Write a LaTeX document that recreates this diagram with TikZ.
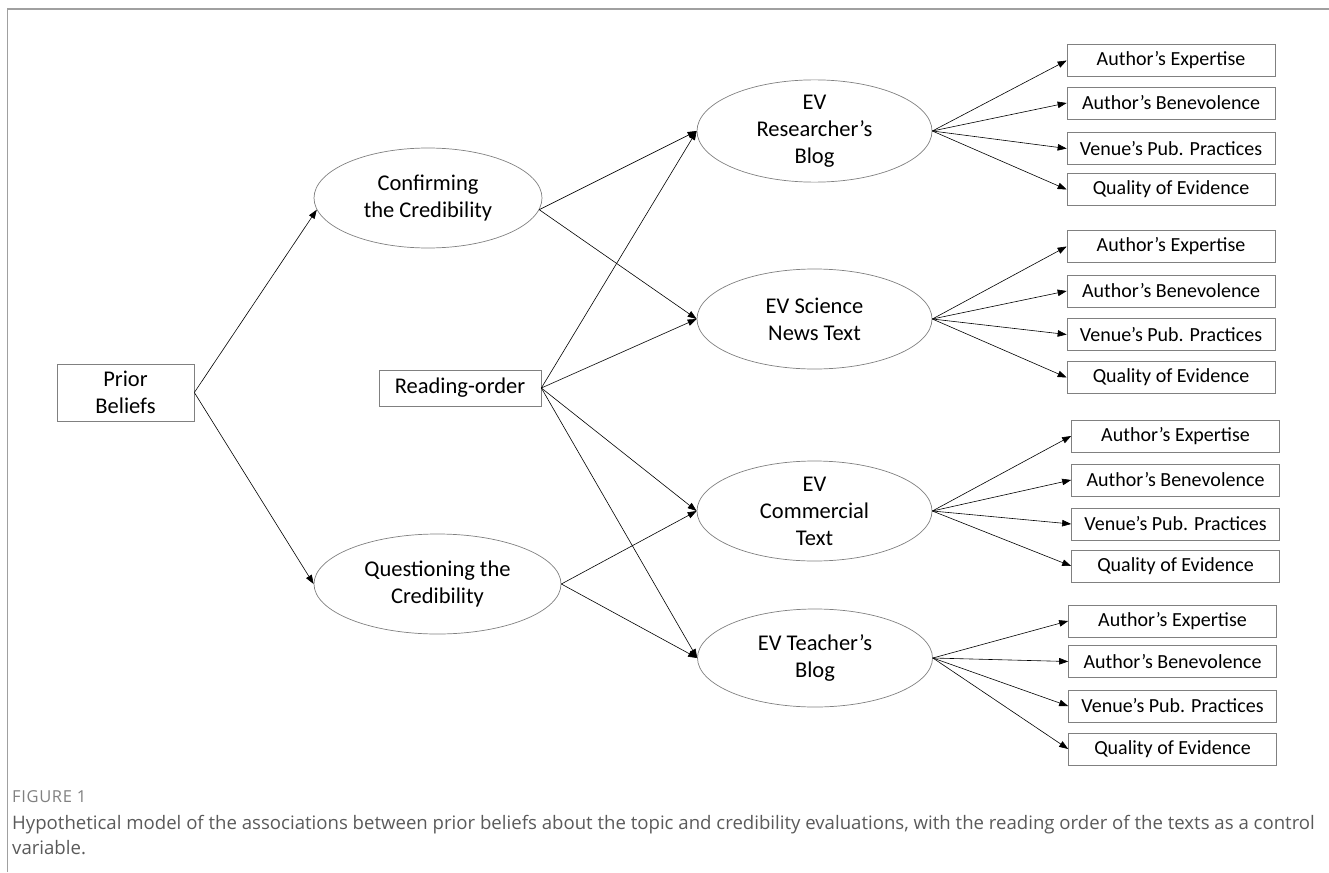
\documentclass[tikz,border=0pt]{standalone}
\usepackage{fontspec}
\setmainfont{Carlito}
\newfontfamily\capfont{Open Sans}
\newfontfamily\figfont[LetterSpace=4]{Open Sans}
\usetikzlibrary{shapes.geometric,arrows.meta}
\definecolor{capgray}{HTML}{5A5A5A}
\definecolor{figgray}{HTML}{808080}
\definecolor{framegray}{HTML}{A0A0A0}
\begin{document}
\begin{tikzpicture}[x=1pt,y=-1pt,
  ell/.style={ellipse,draw=gray,line width=0.7pt,inner sep=0pt,align=center,font=\fontsize{22.5}{27}\selectfont},
  bigbox/.style={draw=gray,line width=0.7pt,align=center,inner sep=0pt,font=\fontsize{22.5}{27}\selectfont},
  attr/.style={draw=gray,line width=0.7pt,minimum width=208pt,minimum height=32pt,inner sep=0pt,font=\fontsize{20}{24}\selectfont},
  arr/.style={-{Triangle[length=9pt,width=6.5pt]},line width=0.6pt,black},
  capt/.style={anchor=west,inner sep=0pt,text=capgray,font=\capfont\fontsize{18.6}{23}\selectfont}]
\useasboundingbox (0,0) rectangle (1329,872);
% frame
\draw[framegray,line width=1.5pt] (7.5,872) -- (7.5,9) -- (1329,9);

% left nodes
\node[bigbox,minimum width=137pt,minimum height=57pt] (pb) at (125.5,392.5) {Prior\\Beliefs};
\node[bigbox,minimum width=162pt,minimum height=36pt] (ro) at (460,388) {Reading-order};
\node[ell,minimum width=228pt,minimum height=100pt] (conf) at (428,198) {Confirming\\the Credibility};
\node[ell,minimum width=247pt,minimum height=100pt] (ques) at (437.5,584) {Questioning the\\Credibility};

% EV ellipses
\node[ell,minimum width=235pt,minimum height=101pt] (ev1) at (814.5,131) {EV\\Researcher's\\Blog};
\node[ell,minimum width=235pt,minimum height=100pt] (ev2) at (814.5,319) {EV Science\\News Text};
\node[ell,minimum width=235pt,minimum height=100pt] (ev3) at (814.5,511) {EV\\Commercial\\Text};
\node[ell,minimum width=235pt,minimum height=98pt] (ev4) at (815,658) {EV Teacher's\\Blog};

% attribute boxes
\foreach \g/\x/\ya/\yb/\yc/\yd in {1/1171/60.5/103/148.5/189.5, 2/1171/246.5/291/334.5/377.5, 3/1175.5/436/480/524/566, 4/1172.5/621/661.5/706/749}{
  \node[attr] (a\g) at (\x,\ya) {Author's Expertise};
  \node[attr] (b\g) at (\x,\yb) {Author's Benevolence};
  \node[attr] (v\g) at (\x,\yc) {Venue's Pub. Practices};
  \node[attr] (q\g) at (\x,\yd) {Quality of Evidence};
  \draw[arr] (ev\g.east) -- (a\g.west);
  \draw[arr] (ev\g.east) -- (b\g.west);
  \draw[arr] (ev\g.east) -- (v\g.west);
  \draw[arr] (ev\g.east) -- (q\g.west);
}

% left connectors
\draw[arr] (pb.east) -- (conf.186);
\draw[arr] (pb.east) -- (ques.west);
\draw[arr] (conf.-6) -- (ev1.west);
\draw[arr] (conf.-6) -- (ev2.west);
\draw[arr] (ro.east) -- (ev1.west);
\draw[arr] (ro.east) -- (ev2.west);
\draw[arr] (ro.east) -- (ev3.west);
\draw[arr] (ro.east) -- (ev4.west);
\draw[arr] (ques.east) -- (ev3.west);
\draw[arr] (ques.east) -- (ev4.west);

% caption
\node[capt,text=figgray,font=\figfont\fontsize{16.5}{19}\selectfont] (fig) at (12,797) {FIGURE 1};
\node[capt] (cap1) at (12,825) {Hypothetical model of the associations between prior beliefs about the topic and credibility evaluations, with the reading order of the texts as a control};
\node[capt] (cap2) at (12,848) {variable.};
\end{tikzpicture}
\end{document}
